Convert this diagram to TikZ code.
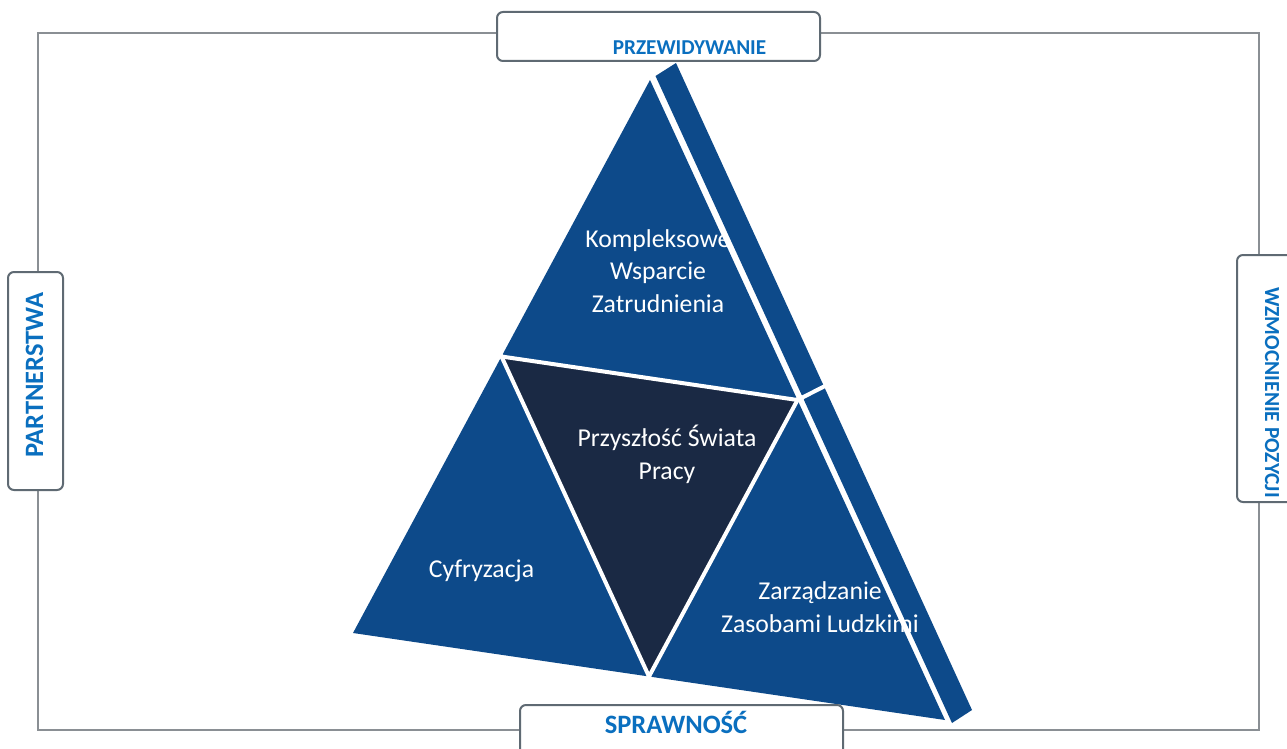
\documentclass[tikz,border=0pt]{standalone}
\usepackage{fontspec}
\setmainfont{Carlito}
\usetikzlibrary{calc}
\definecolor{faceblue}{HTML}{0D4A8A}
\definecolor{coreblue}{HTML}{1A2944}
\definecolor{labelblue}{HTML}{0A6FBF}
\definecolor{framegray}{HTML}{8A8F94}
\definecolor{boxgray}{HTML}{5F6A73}
\begin{document}
\begin{tikzpicture}[x=1pt,y=-1pt,
  frame/.style={draw=framegray,line width=1.3pt},
  labelbox/.style={draw=boxgray,fill=white,line width=2pt,rounded corners=6pt,inner sep=0pt},
  labeltext/.style={text=labelblue,font=\bfseries,inner sep=0pt},
  face/.style={fill=faceblue},
  core/.style={fill=coreblue},
  gap/.style={draw=white,line width=4pt},
  bodytext/.style={text=white,align=center,inner sep=0pt,font=\fontsize{25.7}{32.5}\selectfont}]
\useasboundingbox (0,0) rectangle (1287,749);
\clip (0,0) rectangle (1287,749);

% outer frame
\draw[frame] (38,33) rectangle (1259,730);

% pyramid corners
\coordinate (A) at (650,80);
\coordinate (B) at (353,633);
\coordinate (C) at (945,720);
\coordinate (mAB) at ($(A)!0.5!(B)$);
\coordinate (mAC) at ($(A)!0.5!(C)$);
\coordinate (mBC) at ($(B)!0.5!(C)$);

% side strip
\coordinate (S1) at (655.5,76);
\coordinate (S2) at (676,63);
\coordinate (S3) at (972,710);
\coordinate (S4) at (952,723);
\coordinate (mS) at ($(S2)!0.5!(S3)$);
\fill[face] (S1) -- (S2) -- (S3) -- (S4) -- cycle;
\draw[gap] ($(mAC)!-0.1!(mS)$) -- ($(mS)!-0.2!(mAC)$);

% front face and central triangle
\fill[face] (A) -- (B) -- (C) -- cycle;
\fill[core] (mAB) -- (mAC) -- (mBC) -- cycle;
\draw[gap] ($(mAB)!-0.02!(mAC)$) -- ($(mAC)!-0.02!(mAB)$);
\draw[gap] ($(mAB)!-0.02!(mBC)$) -- ($(mBC)!-0.02!(mAB)$);
\draw[gap] ($(mAC)!-0.02!(mBC)$) -- ($(mBC)!-0.02!(mAC)$);

% texts on the pyramid (base = baseline of the last line)
\node[bodytext,anchor=base] (kws) at (658,312) {Kompleksowe\\Wsparcie\\Zatrudnienia};
\node[bodytext,anchor=base] (psp) at (667,479) {Przyszłość Świata\\Pracy};
\node[bodytext,anchor=base] (cyf) at (481.5,577) {Cyfryzacja};
\node[bodytext,anchor=base] (zzl) at (820,632) {Zarządzanie\\Zasobami Ludzkimi};

% label boxes on the frame
\node[labelbox,minimum width=323pt,minimum height=49pt] (topbox) at (658.5,36.5) {};
\node[labeltext,anchor=base,font=\bfseries\fontsize{21.2}{25}\selectfont] (toptext) at (689.5,55) {PRZEWIDYWANIE};

\node[labelbox,minimum width=55pt,minimum height=218pt] (leftbox) at (35.5,381) {};
\node[labeltext,anchor=base,rotate=90,font=\bfseries\fontsize{26.5}{30}\selectfont] (lefttext) at (43,375) {PARTNERSTWA};

\node[labelbox,minimum width=63pt,minimum height=247pt] (rightbox) at (1268.5,378.5) {};
\node[labeltext,anchor=base,rotate=-90,font=\bfseries\fontsize{21.5}{25}\selectfont] (righttext) at (1265,392.5) {WZMOCNIENIE POZYCJI};

\node[labelbox,minimum width=323pt,minimum height=65pt] (botbox) at (681.5,737.5) {};
\node[labeltext,anchor=base,font=\bfseries\fontsize{26.5}{30}\selectfont] (bottext) at (676,733) {SPRAWNOŚĆ};
\end{tikzpicture}
\end{document}
